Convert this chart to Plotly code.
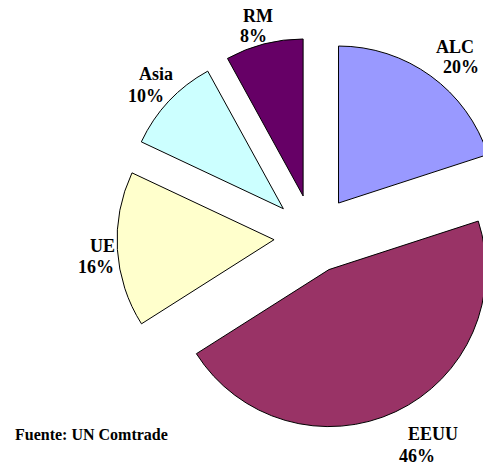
import plotly.graph_objects as go

# data
regions = ["ALC", "EEUU", "UE", "Asia", "RM"]
shares = [20, 46, 16, 10, 8]
colors = ["#9999FF", "#993366", "#FFFFCC", "#CCFFFF", "#660066"]
pulls = [0.269, 0.228, 0.253, 0.265, 0.271]
source = "Fuente: UN Comtrade"

# canvas is wider than the window so the right edge gets cut like the original
W, H = 560, 473
cx, cy, r = 313.7, 237.2, 157
half = r * (1 + max(pulls))

# label line centres in pixels: (name x, name y, pct x, pct y)
label_pos = {
    "ALC": (455, 46.5, 460.5, 67),
    "EEUU": (433, 433.5, 416.5, 456),
    "UE": (102.5, 246, 96, 267),
    "Asia": (155.5, 74, 145.5, 96),
    "RM": (258, 16, 253, 36),
}

def px(x):
    return x / W

def py(y):
    return 1 - y / H

fig = go.Figure(go.Pie(
    labels=regions,
    values=shares,
    sort=False,
    direction="clockwise",
    rotation=0,
    pull=pulls,
    marker=dict(colors=colors, line=dict(color="black", width=1)),
    textinfo="none",
    hoverinfo="label+percent",
    domain=dict(x=[px(cx - half), px(cx + half)], y=[py(cy + half), py(cy - half)]),
    showlegend=False,
))

font = dict(family="Liberation Serif, Times New Roman, serif", size=18, color="black")
for name, val in zip(regions, shares):
    nx, ny, vx, vy = label_pos[name]
    fig.add_annotation(x=px(nx), y=py(ny), xref="paper", yref="paper", text=f"<b>{name}</b>",
                       showarrow=False, xanchor="center", yanchor="middle", font=font)
    fig.add_annotation(x=px(vx), y=py(vy), xref="paper", yref="paper", text=f"<b>{val}%</b>",
                       showarrow=False, xanchor="center", yanchor="middle", font=font)

fig.add_annotation(x=px(13), y=py(434), xref="paper", yref="paper", text=f"<b>{source}</b>",
                   showarrow=False, xanchor="left", yanchor="middle",
                   font=dict(family="Liberation Serif, Times New Roman, serif", size=16, color="black"))

fig.update_layout(
    width=W, height=H, autosize=False,
    margin=dict(l=0, r=0, t=0, b=0),
    paper_bgcolor="white", plot_bgcolor="white",
)

fig.write_html("out.html", post_script="document.body.style.margin='0';document.body.style.overflow='hidden';")
